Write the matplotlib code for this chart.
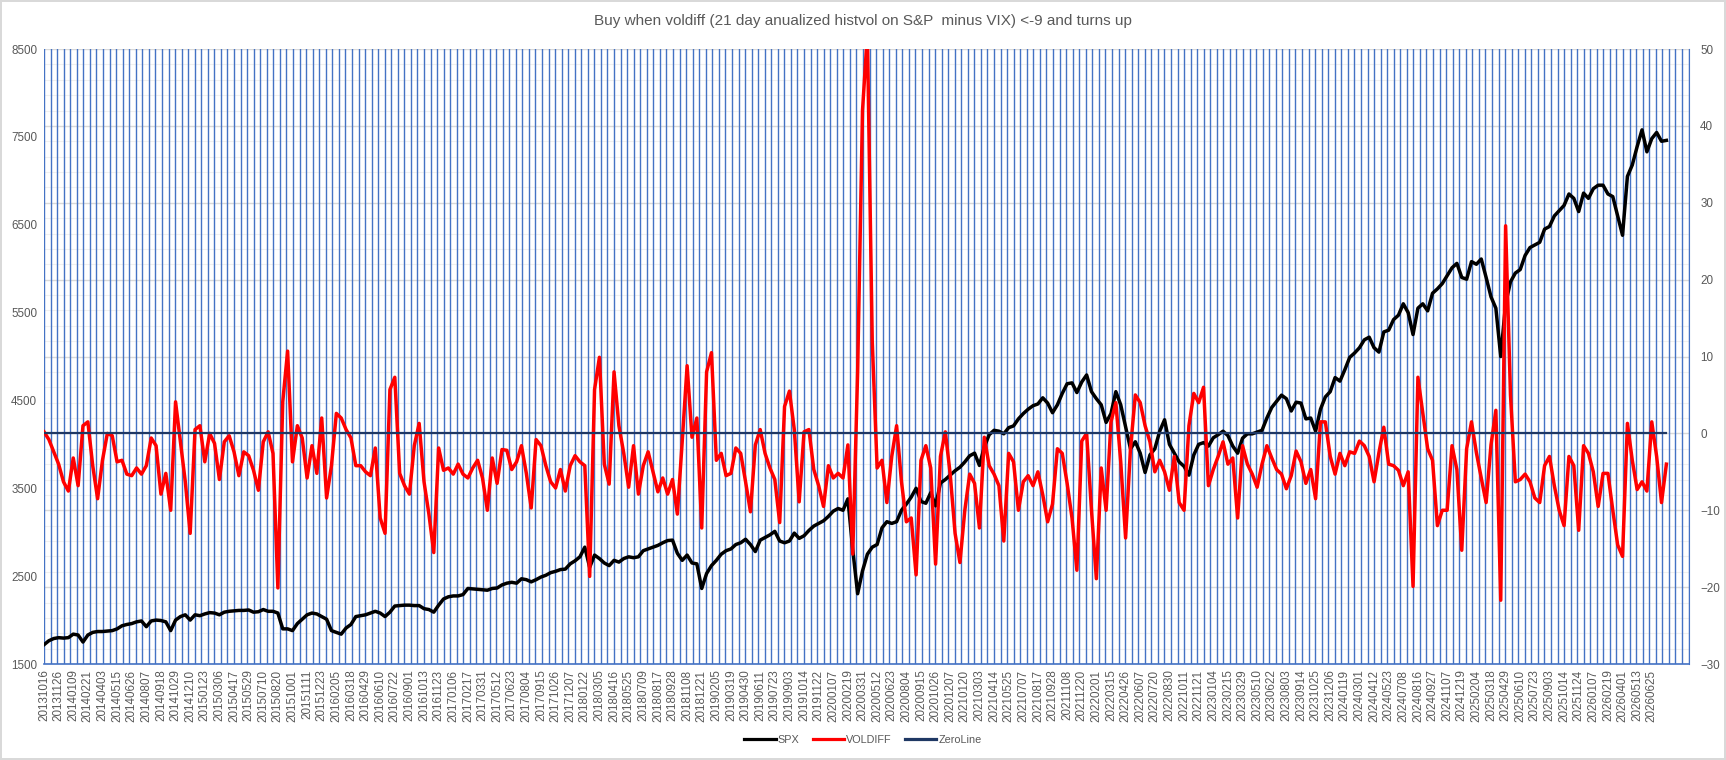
import numpy as np
import matplotlib
matplotlib.use("Agg")
import matplotlib.pyplot as plt
from matplotlib.lines import Line2D

plt.rcParams["font.family"] = ["Liberation Sans", "DejaVu Sans"]

TITLE = "Buy when voldiff (21 day anualized histvol on S&P  minus VIX) <-9 and turns up"

# trading days between x labels, readings taken 3 per label step
LABEL_STEP = 29
READ_STEP = 29 / 3
GRID_STEP = 13
AXIS_DAYS = 3264

date_labels = [
    "20131016", "20131126", "20140109", "20140221", "20140403", "20140515", "20140626",
    "20140807", "20140918", "20141029", "20141210", "20150123", "20150306", "20150417",
    "20150529", "20150710", "20150820", "20151001", "20151111", "20151223", "20160205",
    "20160318", "20160429", "20160610", "20160722", "20160901", "20161013", "20161123",
    "20170106", "20170217", "20170331", "20170512", "20170623", "20170804", "20170915",
    "20171026", "20171207", "20180122", "20180305", "20180416", "20180525", "20180709",
    "20180817", "20180928", "20181108", "20181221", "20190205", "20190319", "20190430",
    "20190611", "20190723", "20190903", "20191014", "20191122", "20200107", "20200219",
    "20200331", "20200512", "20200623", "20200804", "20200915", "20201026", "20201207",
    "20210120", "20210303", "20210414", "20210525", "20210707", "20210817", "20210928",
    "20211108", "20211220", "20220201", "20220315", "20220426", "20220607", "20220720",
    "20220830", "20221011", "20221121", "20230104", "20230215", "20230329", "20230510",
    "20230622", "20230803", "20230914", "20231025", "20231206", "20240119", "20240301",
    "20240412", "20240523", "20240708", "20240816", "20240927", "20241107", "20241219",
    "20250204", "20250318", "20250429", "20250610", "20250723", "20250903", "20251014",
    "20251124", "20260107", "20260219", "20260401", "20260513", "20260625",
]

spx = [
    1720, 1765, 1790, 1800, 1795, 1800, 1840, 1830, 1750, 1830,
    1860, 1870, 1870, 1875, 1880, 1900, 1935, 1950, 1960, 1980,
    1990, 1925, 1990, 2000, 1995, 1980, 1880, 2000, 2040, 2060,
    2000, 2060, 2050, 2070, 2085, 2080, 2060, 2090, 2100, 2105,
    2110, 2110, 2115, 2090, 2095, 2120, 2100, 2100, 2080, 1900,
    1900, 1880, 1960, 2010, 2060, 2080, 2070, 2040, 2010, 1880,
    1860, 1840, 1910, 1950, 2040, 2050, 2060, 2080, 2100, 2080,
    2040, 2090, 2160, 2165, 2170, 2170, 2165, 2165, 2130, 2120,
    2090, 2170, 2240, 2265, 2275, 2275,
    2290, 2360, 2355, 2350, 2345, 2340, 2360, 2365, 2400, 2420,
    2430, 2420, 2470, 2460, 2435, 2460, 2490, 2510, 2540, 2555,
    2575, 2580, 2640, 2675, 2720, 2830, 2600, 2740, 2700, 2650,
    2620, 2680, 2660, 2700, 2720, 2710, 2720, 2790, 2810, 2830,
    2850, 2880, 2905, 2910, 2760, 2680, 2740, 2650, 2640, 2360,
    2530, 2620, 2680, 2750, 2790, 2810, 2860, 2880, 2920, 2860,
    2780, 2910, 2940, 2970, 3010, 2900, 2880, 2900, 2990, 2930,
    2960, 3020, 3070, 3100, 3130, 3180, 3240, 3270, 3250, 3380,
    2800, 2300, 2560, 2750, 2830,
    2860, 3050, 3120, 3100, 3120, 3250, 3320, 3400, 3500,
    3350, 3330, 3450, 3300, 3560, 3600, 3650, 3700, 3740, 3800,
    3870, 3900, 3760, 3970, 4110, 4160, 4150, 4120, 4190, 4210,
    4290, 4350, 4400, 4440, 4460, 4530, 4470, 4360, 4450, 4580,
    4690, 4700, 4590, 4710, 4790, 4600, 4520, 4450, 4250, 4350,
    4600, 4450, 4200, 3950, 4030, 3900, 3680, 3880, 3950, 4150,
    4280, 4000, 3900, 3800, 3750, 3650, 3880, 4000, 4020, 3980,
    4075, 4110, 4150, 4100, 3980, 3900, 4070, 4120, 4120, 4140,
    4160, 4300, 4420, 4490, 4560, 4520,
    4380, 4480, 4470, 4290, 4300, 4150, 4400, 4540, 4600,
    4760, 4720, 4850, 4990, 5040, 5100, 5190, 5220, 5100, 5050,
    5280, 5300, 5420, 5470, 5600, 5500, 5250, 5550, 5600, 5520,
    5720, 5770, 5830, 5920, 6010, 6060, 5900, 5880, 6080, 6050,
    6110, 5900, 5680, 5550, 5000, 5600, 5850, 5950, 5990, 6150,
    6240, 6270, 6300, 6450, 6480, 6600, 6660, 6720, 6850, 6800,
    6650, 6860, 6800, 6910, 6950, 6950, 6850, 6820, 6600, 6380,
    7050, 7180, 7390, 7580, 7330, 7480, 7550, 7450, 7460,
]

voldiff = [
    0.2, -0.8, -2.4, -4.0, -6.3, -7.5, -3.2, -6.8, 1.0, 1.5,
    -4.2, -8.5, -3.5, 0.0, -0.3, -3.7, -3.5, -5.3, -5.5, -4.5,
    -5.3, -4.2, -0.6, -1.6, -7.9, -5.2, -10.0, 4.1, -1.1, -6.3,
    -13.0, 0.5, 1.0, -3.7, 0.0, -1.3, -6.0, -1.1, -0.3, -2.4,
    -5.5, -2.4, -2.9, -4.8, -7.4, -1.1, 0.2, -2.6, -20.1, 4.1,
    10.7, -3.7, 1.0, -0.6, -5.8, -1.6, -5.2, 2.0, -8.4, -4.2,
    2.6, 2.0, 0.5, -0.6, -4.2, -4.2, -5.0, -5.5, -1.9, -11.0,
    -13.0, 5.7, 7.3, -5.2, -6.8, -7.9, -1.6, 1.3, -6.3, -10.5,
    -15.5, -1.9, -4.8, -4.5, -5.3, -4.0,
    -5.3, -5.8, -4.5, -3.5, -5.8, -10.0, -3.2, -6.5, -2.1, -2.2,
    -4.7, -3.7, -1.6, -5.2, -9.7, -0.8, -1.6, -4.2, -6.3, -7.1,
    -4.7, -7.5, -4.2, -2.9, -3.7, -4.2, -18.6, 5.7, 9.9, -4.0,
    -6.6, 8.0, 1.0, -2.6, -7.0, -1.6, -7.9, -4.2, -2.4, -5.0,
    -7.6, -5.8, -7.9, -6.0, -10.5, -1.0, 8.8, -0.5, 2.0, -12.3,
    8.0, 10.5, -3.5, -2.6, -5.5, -5.2, -1.9, -2.6, -6.3, -10.2,
    -1.5, 0.5, -2.6, -4.5, -6.0, -11.6, 3.5, 5.5, 0.5, -8.9,
    0.2, 0.5, -4.7, -6.8, -9.5, -4.2, -5.8, -5.2, -5.8, -1.5,
    -15.7, 8.0, 42.0, 52.0, 12.0,
    -4.5, -3.5, -9.0, -3.0, 1.0, -6.3, -11.5, -11.0, -18.4,
    -3.5, -1.6, -4.5, -17.0, -3.0, 0.2, -5.3, -13.0, -16.8, -10.0,
    -5.3, -6.5, -12.3, -0.5, -4.2, -5.3, -6.8, -14.0, -2.6, -3.7,
    -10.0, -6.3, -5.5, -6.8, -5.0, -8.0, -11.5, -9.2, -2.0, -2.6,
    -6.5, -11.0, -17.8, -1.0, 0.0, -10.0, -18.9, -4.5, -10.0, 1.5,
    4.0, -3.7, -13.6, -2.0, 5.0, 4.0, 1.0, -1.1, -5.0, -3.5,
    -5.0, -7.4, -3.0, -9.0, -10.0, 1.0, 5.2, 4.0, 6.0, -6.8,
    -4.7, -3.0, -1.1, -4.0, -3.2, -11.0, -1.6, -4.0, -5.3, -7.0,
    -4.0, -1.6, -3.2, -4.7, -5.3, -7.2,
    -5.5, -2.3, -3.7, -6.5, -4.7, -8.5, 1.5, 1.5, -3.0,
    -5.3, -2.6, -4.2, -2.4, -2.6, -1.0, -1.6, -3.0, -6.3, -2.5,
    0.8, -4.0, -4.2, -4.8, -6.8, -5.0, -19.9, 7.3, 2.6, -2.0,
    -3.5, -12.0, -10.0, -10.0, -1.6, -4.7, -15.2, -2.0, 1.5, -2.5,
    -5.8, -9.0, -1.5, 3.0, -21.7, 27.0, 5.0, -6.3, -6.0, -5.3,
    -6.3, -8.4, -9.0, -4.2, -3.0, -6.8, -10.0, -12.0, -3.0, -4.2,
    -12.6, -1.6, -2.6, -5.0, -9.5, -5.2, -5.2, -10.0, -14.5, -16.0,
    1.3, -3.5, -7.3, -6.3, -7.5, 1.5, -3.0, -9.0, -4.0,
]

zero_line = [0.0] * len(voldiff)

LEFT_LIM = (1500, 8500)
RIGHT_LIM = (-30, 50)

GRID_BLUE = "#4472C4"
TEXT_GREY = "#595959"
LINE_W = 2.5

fig = plt.figure(figsize=(17.26, 7.60), dpi=100)
ax = fig.add_axes([0.0255, 0.1263, 0.9531, 0.8092])
ax2 = ax.twinx()

x_spx = np.arange(len(spx)) * READ_STEP
x_vol = np.arange(len(voldiff)) * READ_STEP


# horizontal gridlines follow the right axis (major 10, minor 2)
def right_to_left(v):
    return LEFT_LIM[0] + (v - RIGHT_LIM[0]) * (LEFT_LIM[1] - LEFT_LIM[0]) / (RIGHT_LIM[1] - RIGHT_LIM[0])


for v in np.arange(RIGHT_LIM[0], RIGHT_LIM[1] + 0.1, 2):
    major = (v % 10) == 0
    ax.axhline(right_to_left(v), color="#D9D9D9" if major else "#F0F0F0",
               lw=1.0 if major else 0.8, zorder=0)

for d in np.arange(0, AXIS_DAYS + 1, GRID_STEP):
    ax.axvline(d, color=GRID_BLUE, lw=1.0, zorder=1)

ax.plot(x_spx, spx, color="black", lw=LINE_W, zorder=3, solid_joinstyle="round")
ax2.plot(x_vol, voldiff, color="#FF0000", lw=LINE_W, zorder=3, solid_joinstyle="round")
ax2.plot(x_vol, zero_line, color="#1F3864", lw=1.6, zorder=4)

ax.set_xlim(0, AXIS_DAYS)
ax.set_ylim(*LEFT_LIM)
ax2.set_ylim(*RIGHT_LIM)

ax.set_yticks(np.arange(1500, 8501, 1000))
ax2.set_yticks(np.arange(-30, 51, 10))
ax.set_xticks(np.arange(len(date_labels)) * LABEL_STEP)
ax.set_xticklabels(date_labels, rotation=90)

for a in (ax, ax2):
    a.tick_params(length=0, labelsize=8.4, labelcolor=TEXT_GREY)
    for s in a.spines.values():
        s.set_visible(False)
ax.tick_params(axis="x", pad=4)
ax.tick_params(axis="y", pad=5)
ax2.tick_params(axis="y", pad=8)
ax.spines["bottom"].set_visible(True)
ax.spines["bottom"].set_color(GRID_BLUE)
ax.spines["bottom"].set_linewidth(1.2)
ax.spines["right"].set_visible(True)
ax.spines["right"].set_color(GRID_BLUE)

fig.text(0.5, 0.972, TITLE, ha="center", va="center", fontsize=11, color=TEXT_GREY)

handles = [
    Line2D([], [], color="black", lw=2.3),
    Line2D([], [], color="#FF0000", lw=2.3),
    Line2D([], [], color="#1F3864", lw=2.3),
]
fig.legend(handles, ["SPX", "VOLDIFF", "ZeroLine"], loc="center", bbox_to_anchor=(0.5, 0.026),
           ncol=3, frameon=False, fontsize=7.8, labelcolor=TEXT_GREY, handlelength=2.9,
           columnspacing=1.2, handletextpad=0.2)

fig.patch.set_edgecolor("#D9D9D9")
fig.patch.set_linewidth(1.5)

fig.savefig("out.png", dpi=100)
